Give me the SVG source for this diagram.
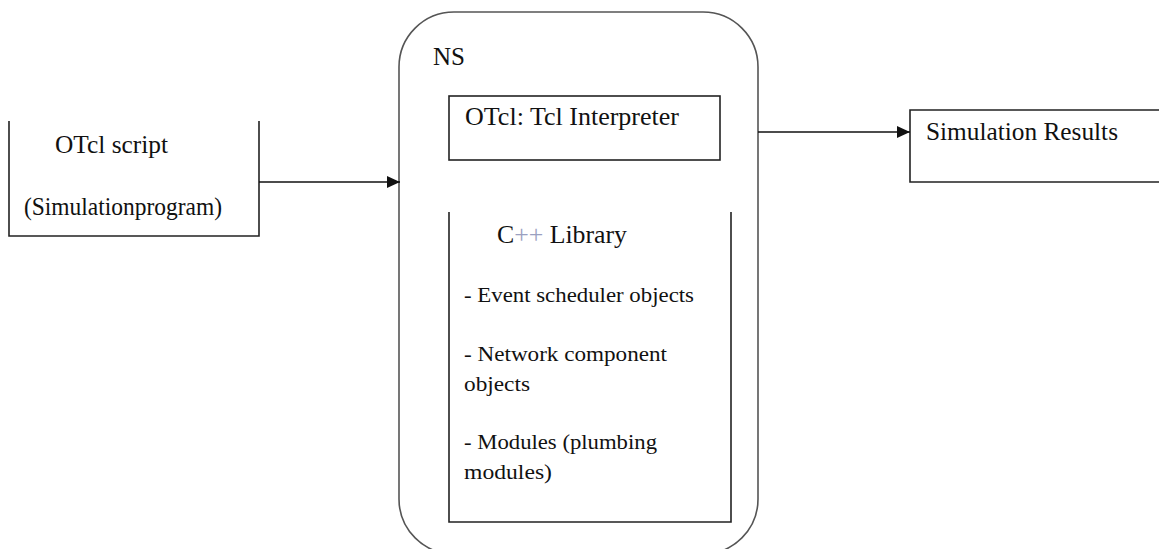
<svg xmlns="http://www.w3.org/2000/svg" width="1159" height="549" viewBox="0 0 1159 549">
<style>
.t{font-family:"Liberation Serif","Times New Roman",serif;fill:#111;}
.big{font-size:25px;}
.sm{font-size:22px;}
.box{fill:none;stroke:#222;stroke-width:1.6;}
.outer{fill:none;stroke:#555;stroke-width:1.6;}
.conn{fill:none;stroke:#111;stroke-width:1.4;}
</style>
<defs>
<marker id="ah" viewBox="0 0 13 12" refX="13" refY="6" markerWidth="13" markerHeight="12" markerUnits="userSpaceOnUse" orient="auto">
<path d="M0,0 L13,6 L0,12 Z" fill="#111"/>
</marker>
</defs>
<rect width="1159" height="549" fill="#fff"/>
<g id="otcl-script">
<path class="box" d="M9,121 V236 H259 V121"/>
<text class="t big" x="55" y="153" textLength="113" lengthAdjust="spacingAndGlyphs">OTcl script</text>
<text class="t big" x="24" y="215" textLength="198" lengthAdjust="spacingAndGlyphs">(Simulationprogram)</text>
</g>
<g id="ns">
<rect class="outer" x="399" y="12" width="359" height="542" rx="55" ry="55"/>
<text class="t big" x="433" y="65" textLength="32" lengthAdjust="spacingAndGlyphs">NS</text>
</g>
<g id="tcl-interpreter">
<rect class="box" x="449" y="96" width="271" height="64"/>
<text class="t big" x="465" y="125" textLength="214" lengthAdjust="spacingAndGlyphs">OTcl: Tcl Interpreter</text>
</g>
<g id="cpp-library">
<path class="box" d="M449,212 V522 H731 V212"/>
<text class="t big" x="497" y="243" textLength="130" lengthAdjust="spacingAndGlyphs">C<tspan fill="#9aa0c0">++</tspan> Library</text>
<text class="t sm" x="464" y="302" textLength="230" lengthAdjust="spacingAndGlyphs">- Event scheduler objects</text>
<text class="t sm" x="464" y="361" textLength="203" lengthAdjust="spacingAndGlyphs">- Network component</text>
<text class="t sm" x="464" y="391" textLength="66" lengthAdjust="spacingAndGlyphs">objects</text>
<text class="t sm" x="464" y="449" textLength="193" lengthAdjust="spacingAndGlyphs">- Modules (plumbing</text>
<text class="t sm" x="464" y="479" textLength="88" lengthAdjust="spacingAndGlyphs">modules)</text>
</g>
<g id="simulation-results">
<path class="box" d="M1162,110 H910 V182 H1162"/>
<text class="t big" x="926" y="140" textLength="192" lengthAdjust="spacingAndGlyphs">Simulation Results</text>
</g>
<g id="connectors">
<line class="conn" x1="259" y1="182" x2="400" y2="182" marker-end="url(#ah)"/>
<line class="conn" x1="758" y1="132" x2="910" y2="132" marker-end="url(#ah)"/>
</g>
</svg>
